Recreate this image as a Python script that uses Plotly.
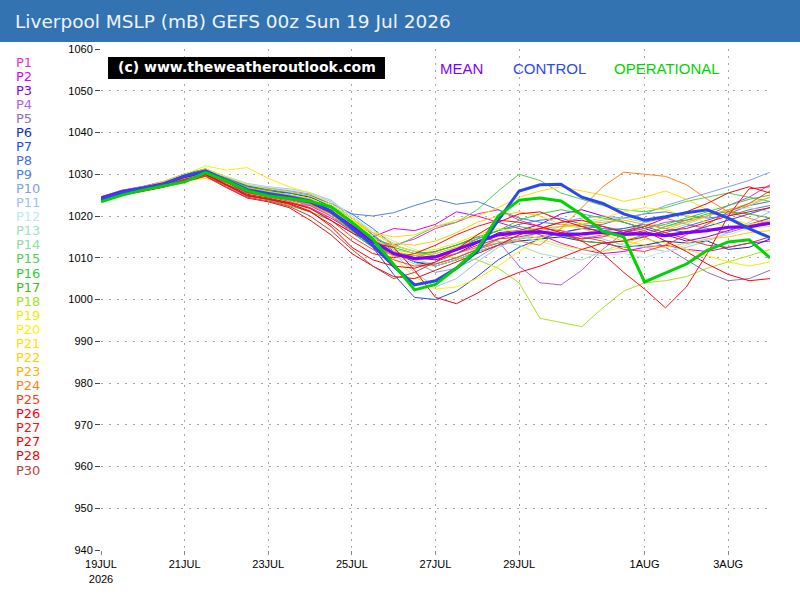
import plotly.graph_objects as go

# time axis: days since 19 Jul 2026 00z, 12-hourly
days = [i * 0.5 for i in range(33)]

tick_days = [0, 2, 4, 6, 8, 10, 13, 15]
tick_labels = ["19JUL<br>2026", "21JUL", "23JUL", "25JUL", "27JUL", "29JUL", "1AUG", "3AUG"]
y_ticks = [940, 950, 960, 970, 980, 990, 1000, 1010, 1020, 1030, 1040, 1050, 1060]

mean = [1024.3, 1025.8, 1026.7, 1027.7, 1029.5, 1030.6, 1028.4, 1026.0, 1025.2, 1024.3, 1023.4,
        1021.0, 1017.5, 1014.0, 1011.0, 1009.8, 1010.2, 1012.0, 1013.8, 1015.5, 1016.0, 1016.2,
        1015.5, 1015.7, 1016.1, 1015.6, 1015.8, 1015.3, 1016.0, 1016.5, 1017.3, 1017.4, 1018.3]
control = [1024.0, 1025.6, 1026.6, 1027.6, 1029.6, 1030.8, 1028.6, 1026.3, 1025.4, 1024.6, 1023.6,
           1021.2, 1017.0, 1013.0, 1008.0, 1003.5, 1004.5, 1007.5, 1011.5, 1019.0, 1026.0, 1027.5,
           1027.6, 1024.5, 1023.0, 1020.5, 1019.0, 1019.8, 1020.8, 1021.5, 1019.5, 1017.0, 1014.8]
operational = [1023.4, 1025.0, 1026.2, 1027.2, 1028.2, 1030.4, 1028.4, 1026.0, 1024.8, 1024.2, 1023.5,
               1022.2, 1018.5, 1014.5, 1008.5, 1002.3, 1003.6, 1007.5, 1012.0, 1020.0, 1023.8, 1024.3,
               1023.6, 1020.3, 1016.3, 1015.0, 1004.2, 1006.3, 1008.5, 1011.8, 1013.8, 1014.3, 1010.0]

member_names = ["P1", "P2", "P3", "P4", "P5", "P6", "P7", "P8", "P9", "P10",
                "P11", "P12", "P13", "P14", "P15", "P16", "P17", "P18", "P19", "P20",
                "P21", "P22", "P23", "P24", "P25", "P26", "P27", "P27", "P28", "P30"]
member_colors = ["#F22CD6", "#E000F0", "#8000F0", "#B060E0", "#9070B0", "#1030B0", "#2050E0", "#4070E0",
                 "#5080E0", "#80A0F0", "#A0C0F0", "#C0E8F0", "#A0E0C0", "#90E0A0", "#50D050", "#30D030",
                 "#40C020", "#A8E020", "#E8F000", "#FFF000", "#FFE000", "#FFD000", "#FFB000", "#FF8020",
                 "#FF4020", "#FF0010", "#FF1010", "#FF0000", "#E01010", "#C04040"]

p01 = [1024.5,1026.0,1026.9,1028.0,1029.4,1030.5,1028.0,1025.5,1024.9,1024.0,1022.8,1020.5,1017.0,1014.5,1013.0,1014.5,1017.0,1018.5,1020.5,1021.5,1019.0,1017.5,1016.0,1014.5,1015.5,1016.0,1017.0,1018.5,1019.0,1020.0,1022.5,1024.5,1027.5]
p02 = [1024.2,1025.6,1026.5,1027.6,1029.0,1030.2,1027.5,1024.8,1024.0,1023.2,1022.0,1019.5,1016.5,1015.0,1017.0,1016.5,1018.0,1021.0,1020.0,1018.5,1017.0,1015.5,1013.5,1012.0,1011.0,1011.5,1012.5,1013.0,1012.0,1011.5,1012.5,1013.5,1014.0]
p03 = [1024.0,1025.5,1026.4,1027.4,1029.2,1030.4,1028.5,1026.5,1025.5,1024.5,1023.5,1021.0,1018.0,1014.0,1011.5,1010.0,1009.5,1011.0,1013.5,1016.0,1016.5,1018.0,1020.5,1021.5,1020.0,1018.5,1017.0,1015.5,1014.0,1015.0,1016.5,1018.0,1019.5]
p04 = [1024.6,1026.0,1027.0,1028.2,1029.8,1031.0,1028.0,1025.0,1024.0,1023.0,1022.5,1020.0,1016.0,1012.5,1010.5,1010.0,1011.5,1013.0,1015.0,1014.0,1008.0,1004.0,1003.5,1007.0,1012.0,1016.0,1018.5,1019.5,1018.0,1017.0,1016.0,1017.5,1019.0]
p05 = [1024.1,1025.4,1026.3,1027.3,1028.8,1030.0,1027.8,1025.6,1024.8,1023.8,1022.5,1020.0,1016.5,1013.0,1011.0,1009.0,1008.5,1010.0,1012.0,1013.5,1014.5,1015.0,1016.0,1017.0,1017.5,1016.5,1015.0,1012.5,1009.5,1006.5,1004.5,1005.0,1007.0]
p06 = [1024.4,1025.9,1026.8,1027.9,1029.6,1030.9,1029.0,1027.0,1026.0,1025.5,1024.5,1022.5,1019.5,1015.5,1011.5,1009.0,1008.0,1009.5,1011.5,1013.0,1014.0,1014.5,1015.0,1014.0,1013.5,1012.5,1013.0,1014.0,1013.5,1014.0,1012.0,1012.5,1014.5]
p07 = [1024.3,1025.8,1026.7,1027.8,1029.7,1031.0,1029.2,1027.2,1026.3,1025.8,1024.8,1022.0,1018.0,1012.5,1006.0,1000.5,1000.0,1002.0,1005.5,1009.5,1012.5,1014.5,1016.0,1017.0,1016.5,1017.0,1018.0,1017.0,1016.0,1017.5,1019.0,1020.5,1022.0]
p08 = [1024.5,1026.1,1027.0,1028.1,1030.0,1031.2,1029.0,1027.0,1026.4,1025.5,1024.8,1023.0,1020.5,1017.0,1013.0,1011.5,1010.5,1012.0,1014.5,1016.5,1018.0,1019.0,1019.5,1018.0,1017.0,1016.5,1015.5,1016.0,1017.5,1019.0,1020.5,1022.5,1023.5]
p09 = [1024.6,1026.2,1027.1,1028.3,1030.1,1031.3,1029.3,1027.4,1026.6,1025.8,1025.0,1023.0,1020.5,1020.0,1020.8,1022.5,1024.0,1022.8,1023.5,1021.5,1019.5,1018.5,1018.0,1017.5,1018.0,1019.5,1020.5,1021.0,1020.0,1019.5,1020.0,1021.5,1022.5]
p10 = [1023.8,1025.2,1026.3,1027.5,1029.3,1030.8,1029.1,1027.5,1026.8,1026.0,1025.3,1023.5,1019.5,1015.5,1012.0,1009.0,1006.5,1007.5,1010.0,1013.0,1015.5,1017.0,1018.5,1019.5,1020.0,1019.5,1020.5,1022.5,1024.0,1025.5,1027.0,1028.5,1030.5]
p11 = [1023.5,1025.0,1026.1,1027.2,1029.0,1030.6,1029.4,1027.8,1027.0,1026.5,1025.6,1023.8,1020.0,1016.0,1011.0,1006.5,1003.0,1005.0,1009.0,1012.5,1014.5,1016.0,1016.5,1015.5,1014.5,1013.0,1012.5,1011.5,1012.5,1014.0,1016.0,1018.5,1021.0]
p12 = [1024.0,1025.4,1026.5,1027.6,1029.5,1031.0,1029.5,1027.6,1026.9,1026.3,1025.5,1023.5,1020.0,1016.5,1014.0,1012.0,1010.5,1011.0,1012.5,1014.5,1015.0,1014.0,1012.5,1011.0,1010.5,1011.0,1010.0,1011.5,1013.0,1014.5,1015.5,1017.0,1017.5]
p13 = [1024.2,1025.7,1026.6,1027.7,1029.4,1030.7,1028.8,1026.8,1025.8,1025.0,1024.0,1021.5,1018.0,1014.5,1011.5,1009.5,1008.5,1010.0,1012.5,1014.0,1013.0,1011.0,1010.0,1009.5,1011.5,1013.5,1015.0,1016.5,1018.0,1020.0,1021.5,1022.0,1021.0]
p14 = [1023.9,1025.3,1026.2,1027.3,1029.0,1030.3,1028.2,1026.2,1025.3,1024.2,1023.0,1020.5,1017.5,1013.5,1010.5,1008.5,1008.0,1009.5,1011.5,1013.0,1014.5,1016.0,1017.5,1018.0,1019.0,1019.5,1018.5,1017.5,1018.5,1020.0,1021.5,1023.0,1024.5]
p15 = [1024.0,1025.5,1026.4,1027.5,1029.2,1030.4,1028.4,1026.3,1025.4,1024.4,1023.2,1020.5,1016.5,1013.0,1012.5,1015.0,1017.5,1018.5,1021.5,1026.0,1030.0,1028.5,1025.5,1024.0,1022.5,1021.5,1021.0,1022.0,1023.5,1024.5,1025.5,1024.5,1023.5]
p16 = [1023.6,1025.0,1026.0,1027.1,1028.7,1030.0,1027.5,1025.0,1023.8,1022.5,1021.0,1019.0,1016.0,1012.5,1011.0,1010.5,1011.5,1013.0,1014.5,1016.5,1019.0,1020.5,1021.5,1020.5,1019.5,1018.5,1017.0,1018.0,1019.5,1021.0,1022.5,1024.0,1025.0]
p17 = [1024.3,1025.7,1026.7,1027.7,1029.5,1030.8,1028.9,1026.9,1026.0,1025.1,1024.1,1021.8,1018.5,1015.0,1012.5,1011.0,1011.5,1013.0,1015.0,1016.5,1017.5,1016.5,1015.5,1014.0,1013.5,1014.0,1015.5,1017.5,1019.0,1020.5,1021.0,1020.5,1019.5]
p18 = [1024.1,1025.6,1026.5,1027.6,1029.3,1030.5,1028.6,1026.6,1025.7,1024.7,1023.6,1021.5,1018.0,1014.5,1012.0,1011.0,1010.5,1010.0,1009.5,1007.5,1004.0,995.5,994.5,993.5,998.0,1002.0,1004.0,1004.5,1005.5,1007.5,1009.0,1010.5,1012.0]
p19 = [1024.4,1025.9,1026.9,1028.0,1029.7,1031.3,1029.4,1027.5,1026.5,1025.8,1024.8,1022.5,1019.5,1016.0,1013.0,1011.5,1012.0,1013.5,1015.5,1017.0,1016.0,1014.5,1013.0,1012.0,1011.5,1012.5,1014.5,1013.5,1012.0,1010.5,1009.0,1008.0,1009.0]
p20 = [1024.2,1025.8,1026.8,1028.3,1030.0,1032.0,1031.0,1031.6,1029.0,1027.0,1025.5,1023.0,1019.5,1015.0,1010.0,1005.5,1002.5,1003.0,1005.0,1008.0,1011.5,1014.5,1017.0,1018.5,1019.5,1021.0,1022.0,1021.5,1020.0,1018.5,1017.5,1018.0,1019.0]
p21 = [1024.0,1025.3,1026.2,1027.3,1028.4,1029.0,1027.8,1026.0,1025.2,1024.4,1023.3,1021.5,1018.5,1016.0,1015.0,1015.5,1017.5,1019.0,1020.0,1022.0,1024.5,1026.0,1027.0,1026.0,1025.0,1023.5,1024.5,1026.0,1024.0,1021.5,1019.5,1018.0,1017.5]
p22 = [1024.5,1026.0,1027.0,1028.2,1029.8,1030.9,1028.7,1026.7,1025.9,1025.0,1024.2,1022.0,1019.0,1016.0,1013.5,1013.0,1014.0,1016.0,1018.5,1020.0,1021.0,1020.0,1018.0,1017.0,1015.5,1014.0,1013.0,1012.5,1013.5,1014.5,1015.0,1016.0,1016.5]
p23 = [1024.3,1025.7,1026.6,1027.7,1029.4,1030.6,1028.3,1026.0,1025.1,1024.1,1023.0,1020.5,1017.0,1013.5,1011.5,1010.5,1011.0,1012.5,1014.0,1015.5,1016.5,1017.0,1017.5,1018.0,1018.5,1019.0,1018.0,1017.0,1018.5,1020.0,1021.5,1022.5,1024.5]
p24 = [1024.2,1025.6,1026.5,1027.5,1029.1,1030.3,1028.0,1025.8,1024.9,1023.9,1022.8,1020.0,1016.5,1013.0,1010.5,1009.5,1010.0,1011.0,1012.5,1013.5,1014.0,1013.0,1017.0,1022.0,1027.0,1030.5,1030.0,1029.5,1027.5,1024.0,1021.0,1019.5,1018.0]
p25 = [1024.4,1025.8,1026.8,1027.8,1029.3,1030.4,1028.2,1025.5,1024.6,1023.5,1022.0,1019.0,1015.0,1012.0,1009.5,1008.0,1008.5,1010.0,1012.0,1014.5,1016.0,1017.0,1016.5,1015.0,1014.0,1012.0,1011.5,1013.0,1015.5,1018.0,1021.0,1023.0,1026.0]
p26 = [1024.1,1025.4,1026.3,1027.3,1028.8,1030.0,1027.6,1025.2,1024.3,1023.2,1021.8,1019.0,1016.0,1013.5,1012.5,1007.0,1000.5,999.0,1001.5,1004.5,1006.5,1008.0,1010.0,1012.0,1013.5,1014.0,1015.0,1016.5,1017.0,1018.5,1020.0,1021.0,1022.0]
p27a = [1023.8,1025.1,1026.0,1027.0,1028.5,1029.8,1027.3,1024.8,1024.0,1022.8,1021.0,1018.0,1014.0,1011.0,1010.0,1011.0,1013.0,1015.5,1017.5,1019.0,1018.5,1017.5,1016.0,1014.0,1011.0,1006.5,1002.5,998.0,1003.0,1011.0,1020.0,1026.5,1027.0]
p27b = [1024.0,1025.3,1026.2,1027.2,1028.6,1029.9,1027.4,1024.9,1024.1,1023.0,1021.2,1017.5,1012.5,1009.5,1008.0,1007.5,1009.0,1012.0,1015.5,1018.5,1020.5,1021.0,1019.0,1017.5,1016.0,1015.5,1016.5,1014.0,1011.5,1008.5,1006.0,1004.5,1005.0]
p28 = [1023.7,1025.0,1025.9,1026.9,1028.2,1029.5,1026.8,1024.3,1023.4,1022.0,1019.0,1015.5,1011.0,1008.0,1005.5,1005.0,1007.0,1009.0,1011.0,1013.0,1015.5,1017.0,1018.5,1019.0,1017.5,1016.0,1017.5,1019.5,1021.0,1023.0,1025.5,1027.0,1025.5]
p30 = [1023.9,1025.2,1026.1,1027.1,1028.4,1029.6,1027.0,1024.5,1023.6,1022.3,1020.0,1016.5,1012.0,1008.0,1005.0,1006.5,1009.0,1011.0,1013.0,1014.5,1015.0,1016.0,1015.5,1014.5,1015.0,1016.5,1017.5,1016.0,1014.5,1013.0,1012.5,1013.5,1015.0]

members = [p01, p02, p03, p04, p05, p06, p07, p08, p09, p10, p11, p12, p13, p14, p15,
           p16, p17, p18, p19, p20, p21, p22, p23, p24, p25, p26, p27a, p27b, p28, p30]

# ---------------- layout geometry (pixels) ----------------
W, H = 800, 600
L, R, T, B = 101, 30, 49, 50
PW, PH = W - L - R, H - T - B


def px(x):
    return (x - L) / PW


def py(y):
    return 1 - (y - T) / PH


fig = go.Figure()

for name, col, vals in zip(member_names, member_colors, members):
    fig.add_trace(go.Scatter(x=days, y=vals, mode="lines", name=name,
                             line=dict(color=col, width=1), hoverinfo="skip"))

fig.add_trace(go.Scatter(x=days, y=mean, mode="lines", name="MEAN",
                         line=dict(color="#8000FF", width=3.2), hoverinfo="skip"))
fig.add_trace(go.Scatter(x=days, y=control, mode="lines", name="CONTROL",
                         line=dict(color="#2A48F0", width=3), hoverinfo="skip"))
fig.add_trace(go.Scatter(x=days, y=operational, mode="lines", name="OPERATIONAL",
                         line=dict(color="#00D400", width=3), hoverinfo="skip"))

shapes = [
    # title bar
    dict(type="rect", xref="paper", yref="paper", x0=px(0), x1=px(800), y0=py(42), y1=py(0),
         fillcolor="#3373B1", line=dict(width=0), layer="below"),
    # copyright box
    dict(type="rect", xref="paper", yref="paper", x0=px(108), x1=px(385), y0=py(79), y1=py(57),
         fillcolor="#000000", line=dict(width=0), layer="above"),
]

annotations = [
    dict(text="Liverpool MSLP (mB) GEFS 00z Sun 19 Jul 2026", xref="paper", yref="paper",
         x=px(13), y=py(21), xanchor="left", yanchor="middle", showarrow=False,
         font=dict(family="DejaVu Sans", size=18.5, color="#EEF3F9")),
    dict(text="<b>(c) www.theweatheroutlook.com</b>", xref="paper", yref="paper",
         x=px(247), y=py(67.5), xanchor="center", yanchor="middle", showarrow=False,
         font=dict(family="DejaVu Sans", size=14, color="#FFFFFF")),
    dict(text="MEAN", xref="paper", yref="paper", x=px(438), y=py(69), xanchor="left",
         yanchor="middle", showarrow=False, font=dict(family="Liberation Sans", size=15, color="#8000FF")),
    dict(text="CONTROL", xref="paper", yref="paper", x=px(511), y=py(69), xanchor="left",
         yanchor="middle", showarrow=False, font=dict(family="Liberation Sans", size=15, color="#2A48F0")),
    dict(text="OPERATIONAL", xref="paper", yref="paper", x=px(612), y=py(69), xanchor="left",
         yanchor="middle", showarrow=False, font=dict(family="Liberation Sans", size=15, color="#00D400")),
]

for i, (name, col) in enumerate(zip(member_names, member_colors)):
    annotations.append(dict(text=name, xref="paper", yref="paper", x=px(14), y=py(62 + i * 14.07),
                            xanchor="left", yanchor="middle", showarrow=False,
                            font=dict(family="DejaVu Sans", size=13, color=col)))

fig.update_layout(
    width=W, height=H, margin=dict(l=L, r=R, t=T, b=B, pad=0),
    paper_bgcolor="white", plot_bgcolor="white", showlegend=False,
    shapes=shapes, annotations=annotations, hovermode=False,
    xaxis=dict(range=[0, 16], tickmode="array", tickvals=tick_days, ticktext=tick_labels,
               showgrid=True, gridcolor="#A8A8A8", griddash="2px,5px", gridwidth=1,
               zeroline=False, showline=False, ticks="outside", ticklen=4, tickcolor="#888888",
               tickfont=dict(family="Liberation Sans", size=11, color="#000000"), fixedrange=True),
    yaxis=dict(range=[940, 1060], tickmode="array", tickvals=y_ticks,
               showgrid=True, gridcolor="#A8A8A8", griddash="2px,6px", gridwidth=1,
               zeroline=False, showline=False, ticks="outside", ticklen=5, tickcolor="#444444",
               tickfont=dict(family="Liberation Sans", size=11, color="#000000"), fixedrange=True),
)

fig.write_html("out.html", config={"displayModeBar": False})
